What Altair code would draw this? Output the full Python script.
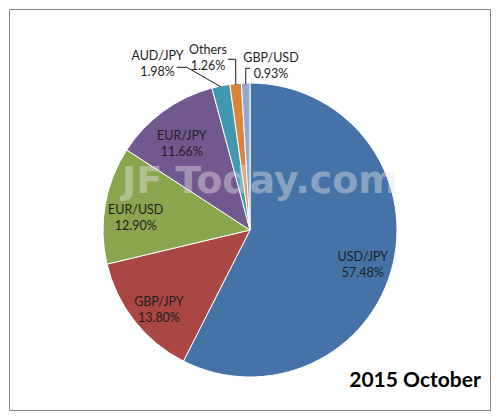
import math
import altair as alt
import pandas as pd

# ---- data ----
categories = ["USD/JPY", "GBP/JPY", "EUR/USD", "EUR/JPY", "AUD/JPY", "Others", "GBP/USD"]
shares = [57.48, 13.80, 12.90, 11.66, 1.98, 1.26, 0.93]
slice_colors = ["#4572A7", "#AA4643", "#89A54E", "#71588F", "#4198AF", "#DB843D", "#93A9CF"]
inside_labels = ["USD/JPY", "GBP/JPY", "EUR/USD", "EUR/JPY"]
title_text = "2015 October"
watermark_text = "JF Today.com"

# ---- layout (chart pixel space; page = chart + 9) ----
W, H = 481, 401
CX, CY, R = 241, 221, 147
LABEL_R = 116
# outside label block centres and leader-line start / elbow points
outside_layout = {
    "AUD/JPY": {"lx": 148.5, "ly": 46.5, "p0": (167.7, 58.3), "p1": (177.7, 58.3)},
    "Others": {"lx": 199, "ly": 40.5, "p0": (219.0, 50.3), "p1": None},
    "GBP/USD": {"lx": 262, "ly": 48.5, "p0": (241.0, 59.3), "p1": None},
}

def fmt(v):
    return f"{v:.2f}%"

df = pd.DataFrame({
    "cat": categories,
    "val": shares,
    "idx": list(range(len(categories))),
})
df["inner"] = [f"{c}\n{fmt(v)}" if c in inside_labels else "" for c, v in zip(categories, shares)]

# anchor points on pie edge (slice mid angles from the data)
total = sum(shares)
cum = 0.0
anchors = {}
for c, v in zip(categories, shares):
    mid = (cum + v / 2) / total * 2 * math.pi
    anchors[c] = (CX + (R - 1) * math.sin(mid), CY - (R - 1) * math.cos(mid))
    cum += v

out_rows, line_rows = [], []
for c, v in zip(categories, shares):
    if c not in outside_layout:
        continue
    lay = outside_layout[c]
    out_rows.append({"cat": c, "x": lay["lx"], "y": lay["ly"], "t": f"{c}\n{fmt(v)}"})
    ax, ay = anchors[c]
    p0 = lay["p0"]
    p1 = lay["p1"] if lay["p1"] is not None else (ax, p0[1])
    for s, (px, py) in enumerate([p0, p1, (ax, ay)]):
        line_rows.append({"cat": c, "s": s, "x": px, "y": py})
df_out = pd.DataFrame(out_rows)
df_lines = pd.DataFrame(line_rows)

xs = alt.Scale(domain=[0, W], range=[0, W])
ys = alt.Scale(domain=[0, H], range=[0, H])

theta = alt.Theta("val:Q", stack=True)
order = alt.Order("idx:Q", sort="ascending")

arcs = alt.Chart(df).mark_arc(radius=R, stroke="white", strokeWidth=1).encode(
    theta=theta,
    order=order,
    color=alt.Color("cat:N", scale=alt.Scale(domain=categories, range=slice_colors), legend=None),
    x=alt.value(CX),
    y=alt.value(CY),
)

watermark = alt.Chart(pd.DataFrame({"x": [251], "y": [184], "t": [watermark_text]})).mark_text(
    font="DejaVu Sans", fontWeight="bold", fontSize=38, color="#e6e6e6", opacity=0.42,
    align="center", baseline="alphabetic",
).encode(
    x=alt.X("x:Q", scale=xs, axis=None),
    y=alt.Y("y:Q", scale=ys, axis=None),
    text="t:N",
)

inner = alt.Chart(df).mark_text(
    radius=LABEL_R, font="Lato", fontSize=12.5, color="#1e1e1e", lineBreak="\n",
    lineHeight=16, align="center", baseline="middle",
).encode(
    theta=theta,
    order=order,
    text="inner:N",
    x=alt.value(CX),
    y=alt.value(CY),
)

lines = alt.Chart(df_lines).mark_line(color="#1a1a1a", strokeWidth=1).encode(
    x=alt.X("x:Q", scale=xs, axis=None),
    y=alt.Y("y:Q", scale=ys, axis=None),
    detail="cat:N",
    order="s:Q",
)

outer = alt.Chart(df_out).mark_text(
    font="Lato", fontSize=12.5, color="#1e1e1e", lineBreak="\n", lineHeight=16,
    align="center", baseline="middle",
).encode(
    x=alt.X("x:Q", scale=xs, axis=None),
    y=alt.Y("y:Q", scale=ys, axis=None),
    text="t:N",
)

title = alt.Chart(pd.DataFrame({"x": [406], "y": [378], "t": [title_text]})).mark_text(
    font="Lato", fontWeight="bold", fontSize=21, color="#000000",
    align="center", baseline="alphabetic",
).encode(
    x=alt.X("x:Q", scale=xs, axis=None),
    y=alt.Y("y:Q", scale=ys, axis=None),
    text="t:N",
)

chart = alt.layer(arcs, watermark, inner, lines, outer, title).properties(
    width=W, height=H,
    autosize=alt.AutoSizeParams(type="none"),
    padding={"left": 1, "top": 1, "right": 1, "bottom": 1},
    background="white",
).configure_view(stroke="#888888", strokeWidth=1)

chart.save("out.html", embed_options={"renderer": "svg", "actions": False})
